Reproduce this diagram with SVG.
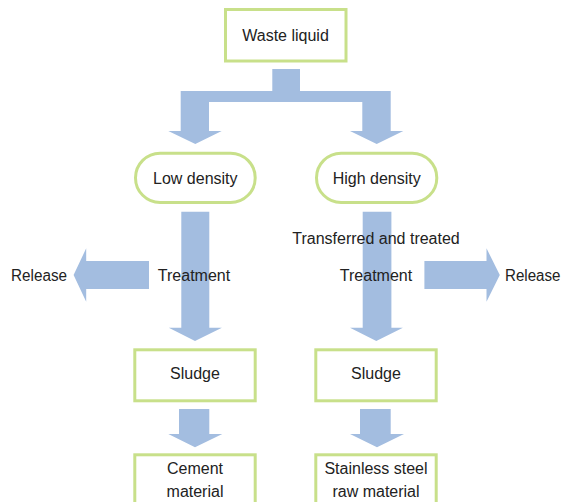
<svg xmlns="http://www.w3.org/2000/svg" width="563" height="502" viewBox="0 0 563 502">
<style>
.box{fill:#ffffff;stroke:#c8e08a;stroke-width:3}
.arr{fill:#a3bde0;stroke:none}
text{font-family:"Liberation Sans",Arial,sans-serif;font-size:16px;fill:#222222;text-anchor:middle}
</style>
<rect width="563" height="502" fill="#ffffff"/>
<g id="connectors">
<path class="arr" d="M272.3,69 H300 V91 H390.7 V131 H403.3 L376.7,144 L350,131 H362.3 V102 H209 V131 H221.7 L195.3,144 L168.3,131 H180.7 V91 H272.3 Z"/>
<path class="arr" d="M181.3,211.7 H209.3 V327.7 H221.9 L195,341 L168.8,327.7 H181.3 Z"/>
<path class="arr" d="M362.7,211.7 H391.4 V327.7 H402.9 L376.3,341 L350,327.7 H362.7 Z"/>
<path class="arr" d="M149,261 V289 H86.2 V301.7 L73.6,275 L86.2,248.3 V261 Z"/>
<path class="arr" d="M424.4,261 H486.5 V248.3 L499.8,275 L486.5,301.7 V289 H424.4 Z"/>
<path class="arr" d="M179,409 H209.3 V434 H222.3 L195,447.3 L168.3,434 H179 Z"/>
<path class="arr" d="M360,409 H390.7 V434 H404 L377,447.3 L350,434 H360 Z"/>
<text x="194" y="281">Treatment</text>
<text x="376" y="281">Treatment</text>
<text x="376" y="244">Transferred and treated</text>
<text x="39" y="281" textLength="56" lengthAdjust="spacingAndGlyphs">Release</text>
<text x="505" y="281" style="text-anchor:start;font-size:15.6px" textLength="55.5" lengthAdjust="spacingAndGlyphs">Release</text>
</g>
<g id="waste-liquid">
<rect class="box" x="225.5" y="9.5" width="120.5" height="51.5"/>
<text x="285.5" y="41">Waste liquid</text>
</g>
<g id="low-density">
<rect class="box" x="135.5" y="153.2" width="119.7" height="49.3" rx="24.6"/>
<text x="195.3" y="184">Low density</text>
</g>
<g id="high-density">
<rect class="box" x="316.5" y="153.2" width="120.3" height="49.3" rx="24.6"/>
<text x="376.7" y="184">High density</text>
</g>
<g id="sludge-left">
<rect class="box" x="134.8" y="349.8" width="120.4" height="51"/>
<text x="195" y="379">Sludge</text>
</g>
<g id="sludge-right">
<rect class="box" x="315.8" y="349.8" width="120.4" height="51"/>
<text x="376" y="379">Sludge</text>
</g>
<g id="cement-material">
<rect class="box" x="134.8" y="454.8" width="120.4" height="60"/>
<text x="195" y="474">Cement</text>
<text x="195" y="497">material</text>
</g>
<g id="stainless-steel">
<rect class="box" x="315.8" y="454.8" width="120.4" height="60"/>
<text x="376" y="474">Stainless steel</text>
<text x="376" y="497">raw material</text>
</g>
</svg>
